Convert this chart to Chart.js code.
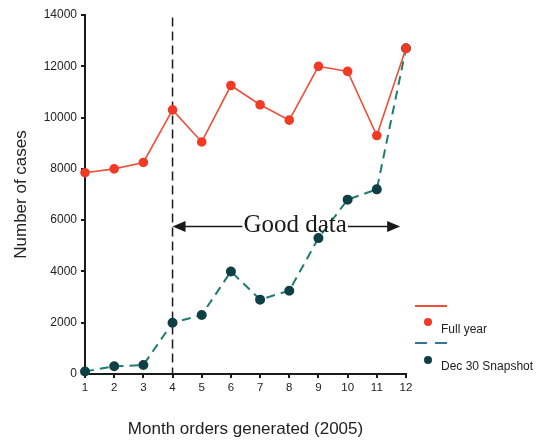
<!DOCTYPE html>
<html>
<head>
<meta charset="utf-8">
<script src="https://cdn.jsdelivr.net/npm/chart.js@4"></script>
<style>
  html, body { margin: 0; padding: 0; background: #fff; }
  #wrap { width: 542px; height: 440px; }
</style>
</head>
<body>
<div id="wrap"><canvas id="chart" width="542" height="440"></canvas></div>
<script>
// Case counts by month of order (2005): full-year count vs. Dec 30 snapshot.
const MONTHS = [1, 2, 3, 4, 5, 6, 7, 8, 9, 10, 11, 12];
const FULL_YEAR = [7850, 8000, 8250, 10300, 9050, 11250, 10500, 9900, 12000, 11800, 9300, 12700];
const SNAPSHOT = [100, 300, 350, 2000, 2300, 4000, 2900, 3250, 5300, 6800, 7200, 12700];
const Y_TICKS = [0, 2000, 4000, 6000, 8000, 10000, 12000, 14000];

// "Good data" annotation: vertical cut at month 4, arrow spanning to ~month 11.8
const CUT_MONTH = 4;
const CUT_TOP = 13900;
const ARROW_FROM = 4;
const ARROW_TO = 11.8;
const ARROW_Y = 5750;
const ARROW_LABEL_X = 8.2;

const RED_LINE = "#ee4f38";
const RED_DOT = "#f23a25";
const TEAL_LINE = "#1f7c72";
const TEAL_DOT = "#0e4046";
const INK = "#1a1a1a";
const SANS = "'Liberation Sans', Arial, sans-serif";
const SERIF = "'Liberation Serif', 'Times New Roman', serif";

const pairs = (ys) => MONTHS.map((m, i) => ({ x: m, y: ys[i] }));

// Draws the vertical cut line (under the series) and the arrow + label (over them).
const annotations = {
  id: "annotations",
  beforeDatasetsDraw(c) {
    const { ctx, scales: { x, y } } = c;
    const px = x.getPixelForValue(CUT_MONTH);
    ctx.save();
    ctx.strokeStyle = INK;
    ctx.lineWidth = 1.5;
    ctx.setLineDash([9, 5]);
    ctx.beginPath();
    ctx.moveTo(px, y.getPixelForValue(CUT_TOP));
    ctx.lineTo(px, y.getPixelForValue(0));
    ctx.stroke();
    ctx.restore();
  },
  afterDatasetsDraw(c) {
    const { ctx, scales: { x, y } } = c;
    const x0 = x.getPixelForValue(ARROW_FROM);
    const x1 = x.getPixelForValue(ARROW_TO);
    const ay = y.getPixelForValue(ARROW_Y);
    const tx = x.getPixelForValue(ARROW_LABEL_X);
    ctx.save();
    ctx.font = "25px " + SERIF;
    const tw = ctx.measureText("Good data").width;
    ctx.strokeStyle = INK;
    ctx.fillStyle = INK;
    ctx.lineWidth = 1.5;
    ctx.beginPath();
    ctx.moveTo(x0 + 10, ay);
    ctx.lineTo(tx - tw / 2 - 1, ay);
    ctx.moveTo(tx + tw / 2 + 1, ay);
    ctx.lineTo(x1 - 10, ay);
    ctx.stroke();
    // arrowheads
    ctx.beginPath();
    ctx.moveTo(x0, ay);
    ctx.lineTo(x0 + 13, ay - 5.5);
    ctx.lineTo(x0 + 13, ay + 5.5);
    ctx.closePath();
    ctx.moveTo(x1, ay);
    ctx.lineTo(x1 - 13, ay - 5.5);
    ctx.lineTo(x1 - 13, ay + 5.5);
    ctx.closePath();
    ctx.fill();
    ctx.textAlign = "center";
    ctx.textBaseline = "middle";
    ctx.fillText("Good data", tx, ay - 1);
    ctx.restore();
  }
};

// Legend to the right of the plot: line sample on one row, marker + label below it.
const sideLegend = {
  id: "sideLegend",
  afterDraw(c) {
    const ctx = c.ctx;
    const lx = 415, lw = 32, dotX = 428, textX = 441;
    const rows = [
      { label: "Full year", line: RED_LINE, dot: RED_DOT, dash: [], lineY: 306, dotY: 322, textY: 330 },
      { label: "Dec 30 Snapshot", line: "#2f7890", dot: TEAL_DOT, dash: [12, 8], lineY: 343, dotY: 360, textY: 367 }
    ];
    ctx.save();
    for (const r of rows) {
      ctx.strokeStyle = r.line;
      ctx.lineWidth = 2;
      ctx.setLineDash(r.dash);
      ctx.beginPath();
      ctx.moveTo(lx, r.lineY);
      ctx.lineTo(lx + lw, r.lineY);
      ctx.stroke();
      ctx.setLineDash([]);
      ctx.fillStyle = r.dot;
      ctx.beginPath();
      ctx.arc(dotX, r.dotY, 4, 0, Math.PI * 2);
      ctx.fill();
      ctx.fillStyle = "#222";
      ctx.font = "12px " + SANS;
      ctx.textBaseline = "middle";
      ctx.fillText(r.label, textX, r.textY);
    }
    ctx.restore();
  }
};

new Chart(document.getElementById("chart").getContext("2d"), {
  type: "line",
  data: {
    datasets: [
      {
        label: "Full year",
        data: pairs(FULL_YEAR),
        borderColor: RED_LINE,
        borderWidth: 1.6,
        pointBackgroundColor: RED_DOT,
        pointBorderColor: RED_DOT,
        pointRadius: 4,
        tension: 0,
        clip: false
      },
      {
        label: "Dec 30 Snapshot",
        data: pairs(SNAPSHOT),
        borderColor: TEAL_LINE,
        borderWidth: 2,
        borderDash: [9, 6],
        pointBackgroundColor: TEAL_DOT,
        pointBorderColor: TEAL_DOT,
        pointRadius: 4,
        tension: 0,
        clip: false
      }
    ]
  },
  options: {
    responsive: false,
    animation: false,
    devicePixelRatio: 1,
    layout: { autoPadding: false, padding: { top: 15, right: 136, bottom: 0, left: 0 } },
    plugins: { legend: { display: false }, tooltip: { enabled: false } },
    scales: {
      x: {
        type: "linear",
        min: 1,
        max: 12,
        afterFit: (s) => { s.height = 66; },
        grid: { drawOnChartArea: false, tickLength: 4, color: INK, lineWidth: 2 },
        border: { color: INK, width: 2 },
        ticks: { stepSize: 1, padding: 3, color: "#222", font: { family: SANS, size: 11.5 }, callback: (v) => String(v) },
        title: {
          display: true,
          text: "Month orders generated (2005)",
          color: "#222",
          font: { family: SANS, size: 17 },
          padding: { top: 0, bottom: 0 }
        }
      },
      y: {
        min: 0,
        max: 14000,
        afterFit: (s) => { s.width = 85; },
        afterBuildTicks: (s) => { s.ticks = Y_TICKS.map((v) => ({ value: v })); },
        grid: { drawOnChartArea: false, tickLength: 4, color: INK, lineWidth: 2 },
        border: { color: INK, width: 2 },
        ticks: { padding: 4, color: "#222", font: { family: SANS, size: 12 }, callback: (v) => String(v) },
        title: {
          display: true,
          text: "Number of cases",
          color: "#222",
          font: { family: SANS, size: 17 },
          padding: { top: 11, bottom: 0 }
        }
      }
    }
  },
  plugins: [annotations, sideLegend]
});
</script>
</body>
</html>
